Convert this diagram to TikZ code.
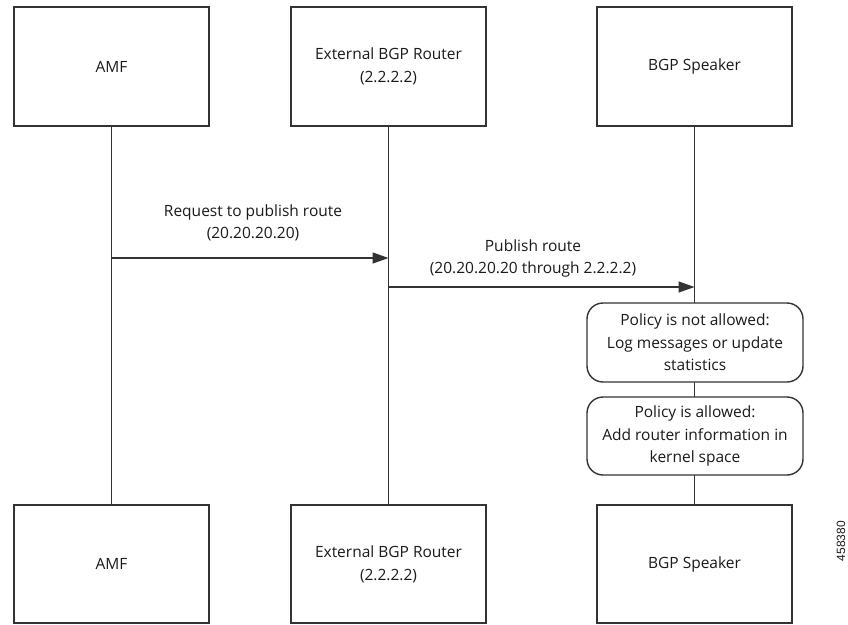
\documentclass[tikz,border=0pt]{standalone}
\usepackage{fontspec}
\setmainfont{Open Sans}
\newfontfamily\numfont{Liberation Sans}
\usetikzlibrary{arrows.meta}
\definecolor{ln}{HTML}{333333}
\definecolor{tx}{HTML}{1A1A1A}
\tikzset{
  actor/.style={draw=ln, line width=1.4pt, fill=white, minimum width=195pt, minimum height=119pt, inner sep=0pt, align=center, text=tx, font=\fontsize{15.5}{23}\selectfont},
  lifeline/.style={draw=ln, line width=1.4pt},
  msg/.style={draw=ln, line width=1.4pt, -{Triangle[length=16pt,width=11pt]}},
  note/.style={draw=ln, line width=1.4pt, fill=white, rounded corners=16pt, minimum width=216pt, minimum height=78pt, inner sep=0pt, align=center, text=tx, font=\fontsize{15.5}{22.5}\selectfont},
  lbl/.style={align=center, text=tx, inner sep=0pt, font=\fontsize{15.5}{22}\selectfont}
}
\begin{document}
\begin{tikzpicture}[x=1pt,y=-1pt]
\useasboundingbox (0,0) rectangle (848,624);
% actors
\node[actor] (amfT) at (111.5,66.5) {AMF};
\node[actor] (rtrT) at (388.5,66.5) {External BGP Router\\(2.2.2.2)};
\node[actor] (spkT) at (694.5,66.5) {BGP Speaker};
\node[actor, minimum height=118pt] (amfB) at (111.5,564) {AMF};
\node[actor, minimum height=118pt] (rtrB) at (388.5,564) {External BGP Router\\(2.2.2.2)};
\node[actor, minimum height=118pt] (spkB) at (694.5,564) {BGP Speaker};
% lifelines
\draw[lifeline] (amfT.south) -- (amfB.north);
\draw[lifeline] (rtrT.south) -- (rtrB.north);
\draw[lifeline] (spkT.south) -- (spkB.north);
% notes
\node[note, minimum height=79pt] (p1) at (695,342.5) {Policy is not allowed:\\Log messages or update\\statistics};
\node[note] (p2) at (695,436) {Policy is allowed:\\Add router information in\\kernel space};
% messages
\coordinate (m1s) at (111.5,258);
\coordinate (m1e) at (388.5,258);
\coordinate (m2s) at (388.5,287);
\coordinate (m2e) at (694.5,287);
\draw[msg] (m1s) -- (m1e);
\draw[msg] (m2s) -- (m2e);
\node[lbl] (l1) at (253,223) {Request to publish route\\(20.20.20.20)};
\node[lbl] (l2) at (533,258.5) {Publish route\\(20.20.20.20 through 2.2.2.2)};
% figure id
\node[rotate=90, inner sep=0pt, text=tx, font=\numfont\fontsize{12}{12}\selectfont] (fid) at (841,541) {458380};
\end{tikzpicture}
\end{document}
